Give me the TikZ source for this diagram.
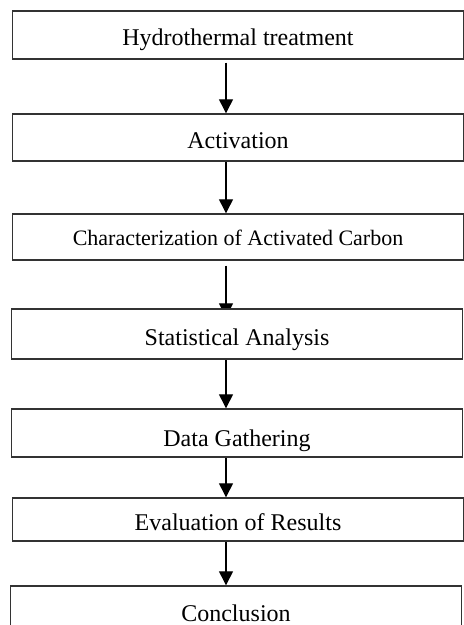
\documentclass[tikz,border=0pt]{standalone}
\usepackage{fontspec}
\setmainfont{Liberation Serif}
\usetikzlibrary{arrows.meta, backgrounds}

\begin{document}
\begin{tikzpicture}[x=0.5pt, y=-0.5pt, >={Triangle[length=7pt, width=7pt]},
  stage/.style={draw=black!80, line width=0.7pt, fill=white, rectangle, minimum width=225.5pt,
    text height=11pt, text depth=0pt, font=\fontsize{12}{14}\selectfont},
  flow/.style={->, line width=0.65pt}]
  \path[use as bounding box, clip] (0,0) rectangle (464,625);
  \node[stage, minimum height=24pt] (hydro) at (238,35) {Hydrothermal treatment};
  \node[stage, minimum height=23.5pt] (act) at (238,137.5) {Activation};
  \node[stage, minimum height=23pt, font=\fontsize{11}{13}\selectfont, text height=9pt] (char) at (238,237) {Characterization of Activated Carbon};
  \node[stage, minimum height=25pt] (stat) at (237,334) {Statistical Analysis};
  \node[stage, minimum height=24pt, text height=13pt] (data) at (237,433) {Data Gathering};
  \node[stage, minimum height=21.5pt] (eval) at (238,519.5) {Evaluation of Results};
  \node[stage, minimum height=24pt] (concl) at (236,610) {Conclusion};
  \coordinate (axis) at (226,0);
  % arrows behind the boxes
  \begin{scope}[on background layer]
    \draw[flow, shorten <=1.5pt] (hydro.south -| axis) -- (act.north -| axis);
    \draw[flow] (act.south -| axis) -- (char.north -| axis);
    \draw[flow, shorten <=2.5pt, shorten >=-4.5pt] (char.south -| axis) -- (stat.north -| axis);
    \draw[flow] (stat.south -| axis) -- (data.north -| axis);
    \draw[flow] (data.south -| axis) -- (eval.north -| axis);
    \draw[flow] (eval.south -| axis) -- (concl.north -| axis);
  \end{scope}
\end{tikzpicture}
\end{document}
